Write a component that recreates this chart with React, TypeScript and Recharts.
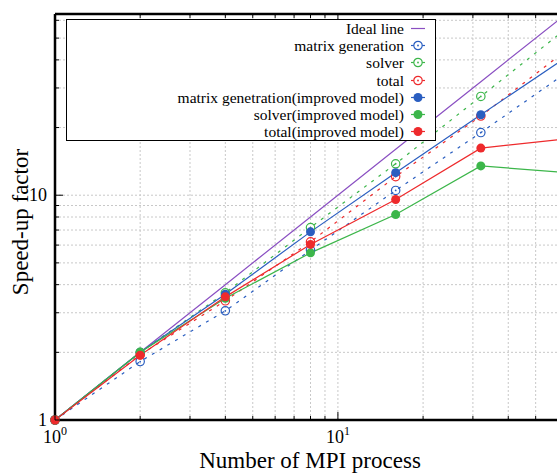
import { LineChart, Line, XAxis, YAxis, CartesianGrid } from 'recharts'

const processes = [1, 2, 4, 8, 16, 32, 64]
const ideal = [1, 2, 4, 8, 16, 32, 64]
const matrixGeneration = [1, 1.82, 3.06, 5.7, 10.5, 19.0, 35]
const solver = [1, 2.0, 3.68, 7.18, 13.8, 27.5, 55]
const total = [1, 1.95, 3.39, 6.2, 12.1, 22.5, 44]
const matrixImproved = [1, 2.0, 3.63, 6.87, 12.6, 22.8, 41]
const solverImproved = [1, 2.0, 3.48, 5.54, 8.2, 13.5, 12.6]
const totalImproved = [1, 1.94, 3.53, 6.04, 9.57, 16.2, 17.8]

const logTicks = [1, 2, 3, 4, 5, 6, 7, 8, 9, 10, 20, 30, 40, 50, 60]
const xTickLabels: Record<number, [string, string]> = { 1: ['10', '0'], 10: ['10', '1'] }
const yTickLabels: Record<number, string> = { 1: '1', 10: '10' }

const PURPLE = '#8a4fc2'
const BLUE = '#2a5ec0'
const GREEN = '#3cb64a'
const RED = '#ee2a2c'
const FONT = '"Liberation Serif", "Times New Roman", serif'

const series = [
  { key: 'matrix', name: 'matrix generation', color: BLUE, open: true },
  { key: 'solver', name: 'solver', color: GREEN, open: true },
  { key: 'total', name: 'total', color: RED, open: true },
  { key: 'matrixImp', name: 'matrix genetration(improved model)', color: BLUE, open: false },
  { key: 'solverImp', name: 'solver(improved model)', color: GREEN, open: false },
  { key: 'totalImp', name: 'total(improved model)', color: RED, open: false },
]

const rows = processes.map((p, i) => ({
  p,
  ideal: ideal[i],
  matrix: matrixGeneration[i],
  solver: solver[i],
  total: total[i],
  matrixImp: matrixImproved[i],
  solverImp: solverImproved[i],
  totalImp: totalImproved[i],
}))

const isMajor = (v: number) => v === 1 || v === 10

const BottomTick = (props: any) => {
  const { x, y, payload } = props
  const lbl = xTickLabels[payload.value]
  return (
    <g>
      <line x1={x} x2={x} y1={y} y2={y - (isMajor(payload.value) ? 8 : 4)} stroke="#000" />
      {lbl && (
        <text x={x} y={y + 23} textAnchor="middle" fontFamily={FONT} fontSize={18} fill="#000">
          <tspan>{lbl[0]}</tspan>
          <tspan dy={-8} fontSize={12}>{lbl[1]}</tspan>
        </text>
      )}
    </g>
  )
}

const TopTick = (props: any) => {
  const { x, y, payload } = props
  return <line x1={x} x2={x} y1={y} y2={y + (isMajor(payload.value) ? 8 : 4)} stroke="#000" />
}

const LeftTick = (props: any) => {
  const { x, y, payload } = props
  const lbl = yTickLabels[payload.value]
  return (
    <g>
      <line x1={x} x2={x + (isMajor(payload.value) ? 8 : 4)} y1={y} y2={y} stroke="#000" />
      {lbl && (
        <text x={x - 8} y={y + 6} textAnchor="end" fontFamily={FONT} fontSize={18} fill="#000">
          {lbl}
        </text>
      )}
    </g>
  )
}

const RightTick = (props: any) => {
  const { x, y, payload } = props
  return <line x1={x} x2={x - (isMajor(payload.value) ? 8 : 4)} y1={y} y2={y} stroke="#000" />
}

const openDot = (color: string) => (props: any) => (
  <g key={`o-${color}-${props.index}`}>
    <circle cx={props.cx} cy={props.cy} r={4.2} fill="none" stroke={color} strokeWidth={1.2} />
    <circle cx={props.cx} cy={props.cy} r={0.9} fill={color} />
  </g>
)

const filledDot = (color: string) => (props: any) => (
  <circle key={`f-${color}-${props.index}`} cx={props.cx} cy={props.cy} r={4.5} fill={color} />
)

function LegendSymbol({ color, open, line }: { color: string; open?: boolean; line?: boolean }) {
  return (
    <svg width={28} height={17} style={{ display: 'block' }}>
      <line x1={7} x2={21} y1={8.5} y2={8.5} stroke={color} strokeWidth={1.2} />
      {!line && open && (
        <>
          <circle cx={14} cy={8.5} r={4.2} fill="#fff" stroke={color} strokeWidth={1.2} />
          <circle cx={14} cy={8.5} r={0.9} fill={color} />
        </>
      )}
      {!line && !open && <circle cx={14} cy={8.5} r={4.5} fill={color} />}
    </svg>
  )
}

export default function App() {
  const legendItems = [{ name: 'Ideal line', color: PURPLE, open: false, line: true }, ...series.map(s => ({ ...s, line: false }))]

  return (
    <div style={{ position: 'fixed', left: 0, top: 0, width: 557, height: 474, overflow: 'hidden', background: '#fff' }}>
      <LineChart width={600} height={474} data={rows} margin={{ top: 9, right: 29, bottom: 24, left: 15 }}>
        <CartesianGrid stroke="#c8c8c8" strokeDasharray="2 2" />
        <XAxis dataKey="p" type="number" scale="log" domain={[1, 64]} ticks={logTicks}
          height={30} tickSize={0} tickMargin={0} tickLine={false} tick={<BottomTick />}
          axisLine={{ stroke: '#000', strokeWidth: 2.5 }} interval={0} />
        <XAxis xAxisId="top" orientation="top" dataKey="p" type="number" scale="log" domain={[1, 64]} ticks={logTicks}
          height={5} tickSize={0} tickMargin={0} tickLine={false} tick={<TopTick />}
          axisLine={{ stroke: '#000', strokeWidth: 2.5 }} interval={0} />
        <YAxis type="number" scale="log" domain={[1, 64]} ticks={logTicks} width={40}
          tickSize={0} tickMargin={0} tickLine={false} tick={<LeftTick />}
          axisLine={{ stroke: '#000', strokeWidth: 2.5 }} interval={0} />
        <YAxis yAxisId="right" orientation="right" type="number" scale="log" domain={[1, 64]} ticks={logTicks} width={5}
          tickSize={0} tickMargin={0} tickLine={false} tick={<RightTick />}
          axisLine={{ stroke: '#000', strokeWidth: 2.5 }} interval={0} />

        <Line dataKey="ideal" stroke={PURPLE} strokeWidth={1.2} dot={false} isAnimationActive={false} />
        {series.map(s => (
          <Line key={s.key} dataKey={s.key} stroke={s.color} strokeWidth={1.2}
            strokeDasharray={s.open ? '3 6' : undefined}
            dot={s.open ? openDot(s.color) : filledDot(s.color)}
            activeDot={false} isAnimationActive={false} />
        ))}
      </LineChart>

      <svg width={557} height={474} style={{ position: 'absolute', left: 0, top: 0, pointerEvents: 'none' }}>
        <text x={310} y={468} textAnchor="middle" fontFamily={FONT} fontSize={23} fill="#000">
          Number of MPI process
        </text>
        <text x={28} y={222} textAnchor="middle" fontFamily={FONT} fontSize={23} fill="#000"
          transform="rotate(-90 28 222)">
          Speed-up factor
        </text>
      </svg>

      <div style={{
        position: 'absolute', left: 66, top: 19, width: 368, height: 120.4,
        border: '1.5px solid #000', background: '#fff', fontFamily: FONT, fontSize: 15.5,
      }}>
        {legendItems.map(item => (
          <div key={item.name} style={{ display: 'flex', justifyContent: 'flex-end', alignItems: 'center', height: 17.2, lineHeight: '17.2px', paddingRight: 3 }}>
            <span>{item.name}</span>
            <LegendSymbol color={item.color} open={item.open} line={item.line} />
          </div>
        ))}
      </div>
    </div>
  )
}
